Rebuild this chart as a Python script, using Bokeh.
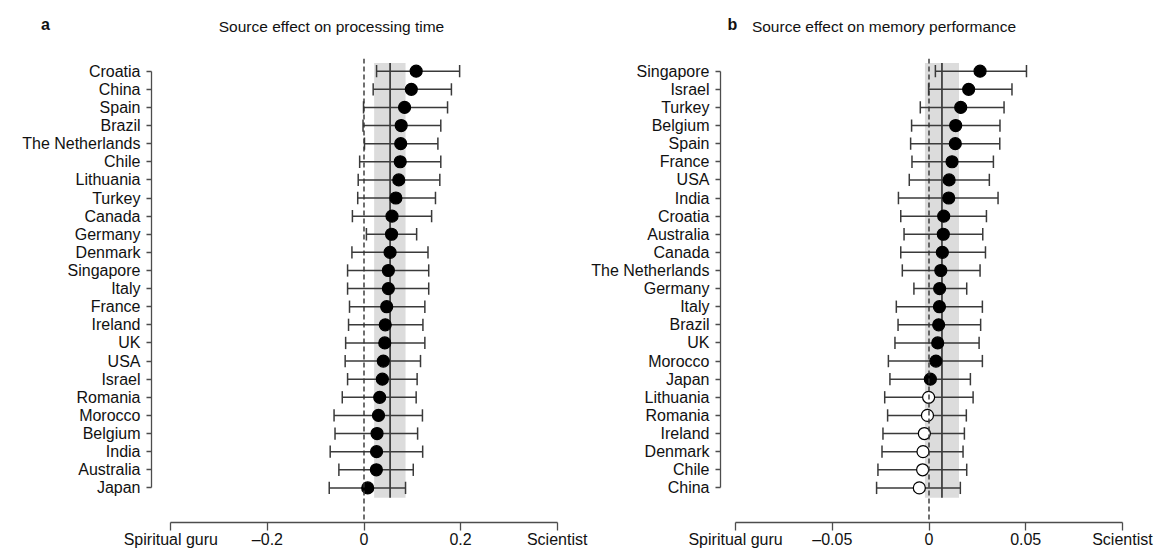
from bokeh.plotting import figure
from bokeh.layouts import row, column
from bokeh.models import Span, FixedTicker, Range1d
from bokeh.core.properties import value
from bokeh.embed import file_html
from bokeh.resources import INLINE

# ---------------- data: panel a (processing time) ----------------
a_countries = ["Croatia", "China", "Spain", "Brazil", "The Netherlands", "Chile",
               "Lithuania", "Turkey", "Canada", "Germany", "Denmark", "Singapore",
               "Italy", "France", "Ireland", "UK", "USA", "Israel", "Romania",
               "Morocco", "Belgium", "India", "Australia", "Japan"]
a_est = [0.108, 0.098, 0.084, 0.077, 0.076, 0.075, 0.072, 0.066, 0.058, 0.057,
         0.054, 0.0505, 0.0505, 0.047, 0.044, 0.043, 0.040, 0.038, 0.0325,
         0.030, 0.027, 0.026, 0.0256, 0.0077]
a_lo = [0.026, 0.019, -0.001, -0.002, 0.001, -0.009, -0.012, -0.013, -0.024, 0.005,
        -0.025, -0.034, -0.034, -0.030, -0.032, -0.038, -0.039, -0.034, -0.045,
        -0.062, -0.060, -0.070, -0.052, -0.072]
a_hi = [0.198, 0.181, 0.173, 0.159, 0.153, 0.159, 0.157, 0.148, 0.140, 0.109,
        0.1325, 0.134, 0.134, 0.126, 0.122, 0.126, 0.117, 0.110, 0.108,
        0.121, 0.111, 0.1215, 0.102, 0.086]
a_mean = 0.054
a_band = (0.021, 0.086)
a_ticks = [-0.4, -0.2, 0.0, 0.2, 0.4]
a_tick_labels = ["Spiritual guru", "\u20130.2", "0", "0.2", "Scientist"]
a_title = "Source effect on processing time"

# ---------------- data: panel b (memory performance) ----------------
b_countries = ["Singapore", "Israel", "Turkey", "Belgium", "Spain", "France", "USA",
               "India", "Croatia", "Australia", "Canada", "The Netherlands",
               "Germany", "Italy", "Brazil", "UK", "Morocco", "Japan", "Lithuania",
               "Romania", "Ireland", "Denmark", "Chile", "China"]
b_est = [0.0264, 0.0205, 0.0164, 0.0138, 0.0136, 0.0119, 0.0104, 0.0102, 0.0076,
         0.0074, 0.0069, 0.0061, 0.0055, 0.0054, 0.0050, 0.0045, 0.0036, 0.0007,
         -0.0002, -0.0008, -0.0024, -0.0031, -0.0033, -0.0050]
b_lo = [0.0033, -0.0002, -0.0045, -0.0090, -0.0095, -0.0088, -0.0102, -0.0158,
        -0.0146, -0.0129, -0.0146, -0.0138, -0.0078, -0.0169, -0.0160, -0.0176,
        -0.0210, -0.0202, -0.0229, -0.0214, -0.0238, -0.0243, -0.0264, -0.0271]
b_hi = [0.0504, 0.0429, 0.0388, 0.0367, 0.0366, 0.0333, 0.0312, 0.0357, 0.0297,
        0.0278, 0.0292, 0.0264, 0.0195, 0.0276, 0.0267, 0.0259, 0.0276, 0.0214,
        0.0228, 0.0193, 0.0183, 0.0176, 0.0195, 0.0162]
b_mean = 0.0067
b_band = (-0.0021, 0.0155)
b_ticks = [-0.1, -0.05, 0.0, 0.05, 0.1]
b_tick_labels = ["Spiritual guru", "\u20130.05", "0", "0.05", "Scientist"]
b_title = "Source effect on memory performance"

FONT = "Liberation Sans"
AX = "#4d4d4d"
TXT = "#111111"
Y_TOP = 0.70   # range above the first row
Y_BOT = -0.91  # range start
HEAD_H = 58


def header(width, letter, letter_x, title, title_x):
    # a strip above each panel holding the panel letter and panel title
    h = figure(width=width, height=HEAD_H, output_backend="svg", toolbar_location=None,
               x_range=Range1d(0, width), y_range=Range1d(0, HEAD_H),
               x_axis_type=None, y_axis_type=None,
               min_border_left=0, min_border_right=0, min_border_top=0,
               min_border_bottom=0)
    h.grid.visible = False
    h.outline_line_color = None
    h.text(x=[letter_x], y=[HEAD_H - 23.5], text=[letter], text_font=value(FONT),
           text_font_size="16px", text_font_style="bold", text_align="left",
           text_baseline="alphabetic", text_color=TXT)
    h.text(x=[title_x], y=[HEAD_H - 25.5], text=[title], text_font=value(FONT),
           text_font_size="15.5px", text_align="center",
           text_baseline="alphabetic", text_color=TXT)
    return h


def panel(countries, est, lo, hi, mean, band, ticks, tick_labels, xr,
          width, border_left, border_right):
    n = len(countries)
    ys = [n - i for i in range(n)]
    p = figure(width=width, height=492, output_backend="svg", toolbar_location=None,
               x_range=Range1d(*xr), y_range=Range1d(Y_BOT, n + Y_TOP),
               min_border_left=border_left, min_border_right=border_right,
               min_border_top=0, min_border_bottom=27)
    p.grid.visible = False
    p.outline_line_color = None
    p.background_fill_color = "white"

    # shaded interval and overall estimate
    p.quad(left=[band[0]], right=[band[1]], bottom=[0.45], top=[n + 0.45],
           fill_color="#dcdcdc", line_color=None)
    p.add_layout(Span(location=0, dimension="height", line_color="#333333",
                      line_width=1.4, line_dash="5 3"))
    p.segment(x0=[mean], y0=[0.45], x1=[mean], y1=[n + 0.45],
              line_color="#222222", line_width=1.5)

    # error bars with caps
    p.segment(x0=lo, y0=ys, x1=hi, y1=ys, line_color="#3a3a3a", line_width=1.5)
    cap = 0.34
    p.segment(x0=lo, y0=[y - cap for y in ys], x1=lo, y1=[y + cap for y in ys],
              line_color="#3a3a3a", line_width=1.5)
    p.segment(x0=hi, y0=[y - cap for y in ys], x1=hi, y1=[y + cap for y in ys],
              line_color="#3a3a3a", line_width=1.5)

    fills = ["black" if v > 0 else "white" for v in est]
    p.scatter(x=est, y=ys, size=12, fill_color=fills, line_color="black",
              line_width=1.2)

    # x axis
    xa = p.xaxis[0]
    xa.ticker = FixedTicker(ticks=ticks)
    xa.major_label_overrides = {t: s for t, s in zip(ticks, tick_labels)}
    xa.bounds = (ticks[0], ticks[-1])
    xa.minor_tick_line_color = None
    xa.major_tick_in = 0
    xa.major_tick_out = 8
    xa.major_label_standoff = 0
    xa.axis_line_color = AX
    xa.major_tick_line_color = AX
    xa.axis_line_width = 1.3
    xa.major_tick_line_width = 1.3
    xa.major_label_text_font = FONT
    xa.major_label_text_font_size = "16px"
    xa.major_label_text_color = TXT

    # y axis
    ya = p.yaxis[0]
    ya.ticker = FixedTicker(ticks=ys)
    ya.major_label_overrides = {y: c for y, c in zip(ys, countries)}
    ya.bounds = (1, n)
    ya.minor_tick_line_color = None
    ya.major_tick_in = 0
    ya.major_tick_out = 5
    ya.major_label_standoff = 6
    ya.axis_line_color = AX
    ya.major_tick_line_color = AX
    ya.axis_line_width = 1.3
    ya.major_tick_line_width = 1.3
    ya.major_label_text_font = FONT
    ya.major_label_text_font_size = "16px"
    ya.major_label_text_color = TXT
    return p


pa = panel(a_countries, a_est, a_lo, a_hi, a_mean, a_band, a_ticks, a_tick_labels,
           (-0.44, 0.44), 588, 151, 12)
pb = panel(b_countries, b_est, b_lo, b_hi, b_mean, b_band, b_ticks, b_tick_labels,
           (-0.1078, 0.1078), 566, 132, 17)
ha = header(588, "a", 40.5, a_title, 331)
hb = header(566, "b", 139, b_title, 295.5)

layout = column(row(ha, hb), row(pa, pb))
open("out.html", "w").write(file_html(layout, INLINE))
